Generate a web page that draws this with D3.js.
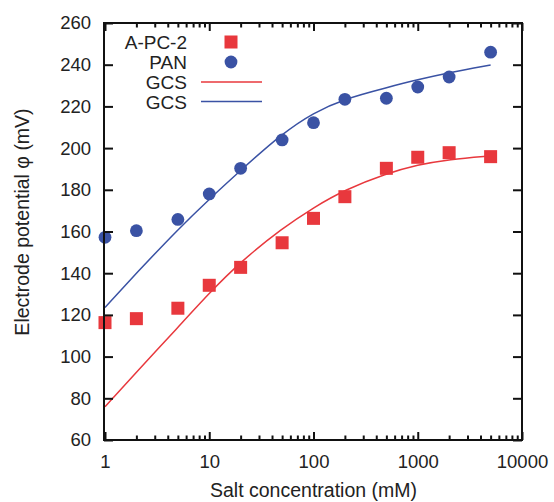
<!DOCTYPE html>
<html>
<head>
<meta charset="utf-8">
<script src="https://cdn.jsdelivr.net/npm/d3@7"></script>
<style>
  html, body { margin: 0; padding: 0; background: #fff; }
  svg text { font-family: "Liberation Sans", Arial, Helvetica, sans-serif; fill: #222; }
</style>
</head>
<body>
<svg id="chart" width="554" height="502"></svg>
<script>
// ---- data ----
const concentration = [1, 2, 5, 10, 20, 50, 100, 200, 500, 1000, 2000, 5000];
const apc2Values = [116.3, 118.2, 123.2, 134.2, 142.8, 154.6, 166.3, 176.7, 190.3, 195.6, 197.8, 195.9];
const panValues  = [157.2, 160.4, 165.8, 178.0, 190.3, 203.9, 212.2, 223.4, 223.9, 229.3, 234.1, 246.0];
const gcsRedValues  = [76.0, 92.5, 114.0, 130.5, 145.5, 161.5, 171.5, 180.0, 187.8, 192.0, 194.6, 196.3];
const gcsBlueValues = [123.6, 140.0, 161.0, 175.5, 189.3, 207.0, 217.0, 223.7, 229.0, 232.8, 236.2, 239.9];
const xMajorTicks = [1, 10, 100, 1000, 10000];
const xTickLabels = ["1", "10", "100", "1000", "10000"];
const yTicks = [60, 80, 100, 120, 140, 160, 180, 200, 220, 240, 260];
const legendLabels = ["A-PC-2", "PAN", "GCS", "GCS"];
const xTitle = "Salt concentration (mM)";
const yTitle = "Electrode potential φ (mV)";

// ---- layout ----
const RED = "#e8383d", BLUE = "#3a52a4";
const L = 105, R = 522, T = 23, B = 440;
const svg = d3.select("#chart");

const x = d3.scaleLog().domain([1, 10000]).range([L, R]);
const y = d3.scaleLinear().domain([60, 260]).range([B, T]);

const xMinor = [];
for (let d = 1; d < 10000; d *= 10) for (let k = 2; k <= 9; k++) xMinor.push(d * k);

// curves
const line = d3.line().x(d => x(d[0])).y(d => y(d[1])).curve(d3.curveBasis);
svg.append("path").datum(concentration.map((c, i) => [c, gcsRedValues[i]]))
  .attr("d", line).attr("fill", "none").attr("stroke", RED).attr("stroke-width", 1.5);
svg.append("path").datum(concentration.map((c, i) => [c, gcsBlueValues[i]]))
  .attr("d", line).attr("fill", "none").attr("stroke", BLUE).attr("stroke-width", 1.5);

// markers
const S = 13;
svg.append("g").selectAll("rect").data(concentration.map((c, i) => [c, apc2Values[i]]))
  .join("rect")
  .attr("x", d => x(d[0]) - S / 2).attr("y", d => y(d[1]) - S / 2)
  .attr("width", S).attr("height", S).attr("fill", RED);
svg.append("g").selectAll("circle").data(concentration.map((c, i) => [c, panValues[i]]))
  .join("circle")
  .attr("cx", d => x(d[0])).attr("cy", d => y(d[1])).attr("r", 6.4).attr("fill", BLUE);

// axes
function styleAxis(g) {
  g.select(".domain").remove();
  g.selectAll(".tick line").attr("stroke", "#111").attr("stroke-width", 2);
  g.selectAll("text").attr("font-size", 18.5).attr("fill", "#222")
    .attr("font-family", '"Liberation Sans", Arial, sans-serif');
}
svg.append("g").attr("transform", `translate(0,${B})`)
  .call(d3.axisBottom(x).tickValues(xMajorTicks).tickFormat((d, i) => xTickLabels[i]).tickSize(-8).tickPadding(15))
  .call(styleAxis);
svg.append("g").attr("transform", `translate(0,${B})`)
  .call(d3.axisBottom(x).tickValues(xMinor).tickFormat("").tickSize(-4.5))
  .call(styleAxis);
svg.append("g").attr("transform", `translate(0,${T})`)
  .call(d3.axisTop(x).tickValues(xMajorTicks).tickFormat("").tickSize(-8))
  .call(styleAxis);
svg.append("g").attr("transform", `translate(0,${T})`)
  .call(d3.axisTop(x).tickValues(xMinor).tickFormat("").tickSize(-4.5))
  .call(styleAxis);
svg.append("g").attr("transform", `translate(${L - 1},0)`)
  .call(d3.axisLeft(y).tickValues(yTicks).tickSize(-9).tickPadding(13))
  .call(styleAxis);
svg.append("g").attr("transform", `translate(${R},0)`)
  .call(d3.axisRight(y).tickValues(yTicks).tickFormat("").tickSize(-9))
  .call(styleAxis);

// frame
svg.append("rect").attr("x", L - 1).attr("y", T).attr("width", R - L + 1).attr("height", B - T)
  .attr("fill", "none").attr("stroke", "#111").attr("stroke-width", 2);

// legend
const lg = svg.append("g");
legendLabels.forEach((t, i) => {
  const yy = 42 + i * 20;
  lg.append("text").attr("x", 187).attr("y", yy + 6.5).attr("text-anchor", "end")
    .attr("font-size", 19).text(t);
});
lg.append("rect").attr("x", 231 - S / 2).attr("y", 42 - S / 2).attr("width", S).attr("height", S).attr("fill", RED);
lg.append("circle").attr("cx", 231).attr("cy", 62).attr("r", 6.4).attr("fill", BLUE);
lg.append("line").attr("x1", 201).attr("x2", 262).attr("y1", 82).attr("y2", 82).attr("stroke", RED).attr("stroke-width", 1.5);
lg.append("line").attr("x1", 201).attr("x2", 262).attr("y1", 101.5).attr("y2", 101.5).attr("stroke", BLUE).attr("stroke-width", 1.5);

// titles
svg.append("text").attr("x", (L + R) / 2).attr("y", 497).attr("text-anchor", "middle")
  .attr("font-size", 19.5).text(xTitle);
svg.append("text").attr("transform", "translate(28.5,222) rotate(-90)").attr("text-anchor", "middle")
  .attr("font-size", 19.5).text(yTitle);
</script>
</body>
</html>
